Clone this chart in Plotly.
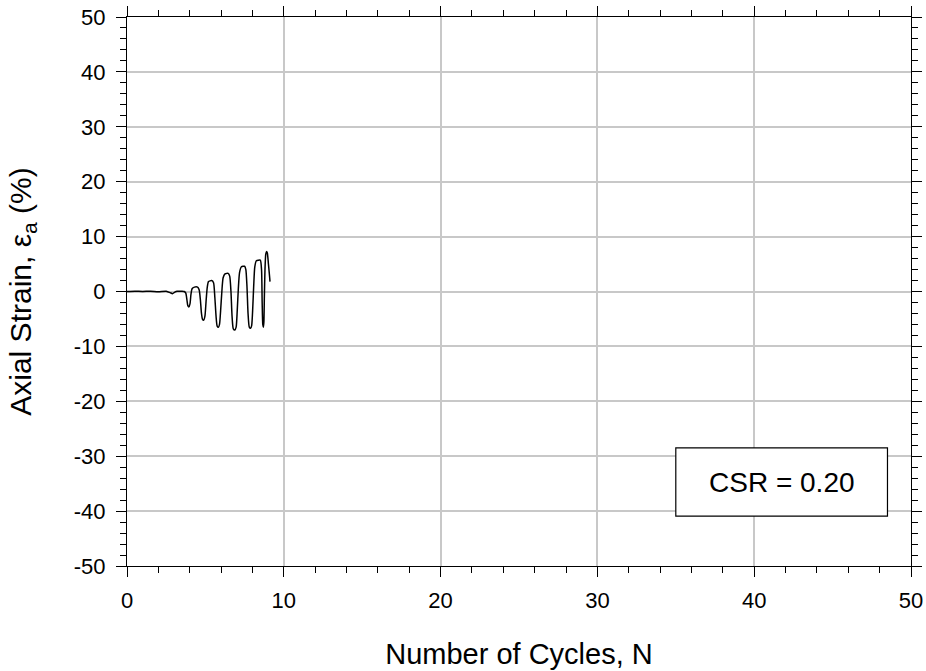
import plotly.graph_objects as go

# Number of cycles N and axial strain (%)
cycles = [0.0, 0.5, 1.0, 1.5, 2.0, 2.5, 2.75, 2.9, 3.05, 3.2, 3.5, 3.65,
          3.75, 3.82, 3.88, 3.95, 4.02, 4.08, 4.15, 4.3, 4.5, 4.6,
          4.68, 4.75, 4.82, 4.9, 4.97, 5.05, 5.12, 5.2, 5.4, 5.52,
          5.6, 5.68, 5.75, 5.83, 5.9, 5.97, 6.05, 6.13, 6.25, 6.45, 6.55,
          6.63, 6.7, 6.78, 6.88, 6.96, 7.03, 7.1, 7.18, 7.3, 7.5, 7.58,
          7.65, 7.72, 7.8, 7.88, 7.95, 8.02, 8.08, 8.15, 8.25, 8.5,
          8.58, 8.62, 8.66, 8.7, 8.73, 8.76, 8.8, 8.85, 8.9, 8.95, 9.02, 9.1, 9.12]
strain = [0.0, 0.05, 0.0, 0.05, -0.05, 0.05, -0.2, -0.4, -0.1, 0.05, 0.05, 0.0,
          -0.3, -1.5, -2.6, -2.8, -2.2, -0.5, 0.5, 0.8, 0.8, 0.3,
          -1.5, -4.0, -5.1, -5.2, -4.5, -1.5, 0.8, 1.8, 2.0, 1.6,
          -1.0, -4.5, -6.3, -6.5, -6.0, -3.5, 0.0, 2.5, 3.2, 3.3, 2.8,
          0.0, -4.5, -6.8, -7.0, -6.5, -3.5, 0.5, 3.5, 4.5, 4.6, 4.0,
          1.0, -4.0, -6.5, -6.7, -6.2, -3.0, 1.0, 4.5, 5.6, 5.7,
          4.0, -2.0, -6.0, -6.5, -5.5, -1.0, 4.0, 6.8, 7.3, 7.0, 5.0, 2.5, 1.8]

x_ticks = [0, 10, 20, 30, 40, 50]
y_ticks = [50, 40, 30, 20, 10, 0, -10, -20, -30, -40, -50]
label_text = "CSR = 0.20"

FONT = "Liberation Sans, Arial, sans-serif"

fig = go.Figure()
fig.add_trace(go.Scatter(x=cycles, y=strain, mode="lines",
                         line=dict(color="black", width=1.5, shape="spline", smoothing=0.6),
                         hoverinfo="skip", showlegend=False))

axis_common = dict(
    showline=True, linecolor="black", linewidth=1.2, mirror="allticks",
    ticks="outside", ticklen=10, tickwidth=1.2, tickcolor="black",
    showgrid=True, gridcolor="#c8c8c8", gridwidth=1.5, zeroline=False,
    automargin=False,
    tickfont=dict(family=FONT, size=22, color="black"),
    minor=dict(ticks="outside", ticklen=6, tickwidth=1.2, tickcolor="black", dtick=2, showgrid=False),
)

fig.update_xaxes(range=[0, 50], tickvals=x_ticks, ticktext=[str(v) for v in x_ticks],
                 ticklabelstandoff=4,
                 title=dict(text="Number of Cycles, N", font=dict(family=FONT, size=29, color="black"), standoff=32),
                 **axis_common)
fig.update_yaxes(range=[-50, 50], tickvals=y_ticks, ticktext=[str(v) for v in y_ticks],
                 ticklabelstandoff=6,
                 title=dict(text="Axial Strain, ε<sub>a</sub> (%)", font=dict(family=FONT, size=30, color="black"), standoff=33),
                 **axis_common)

fig.add_shape(type="rect", xref="x", yref="y", x0=35.0, x1=48.5, y0=-40.9, y1=-28.5,
              line=dict(color="black", width=1.2), fillcolor="white", layer="above")
fig.add_annotation(xref="x", yref="y", x=41.75, y=-34.7, text=label_text, showarrow=False,
                   font=dict(family=FONT, size=28, color="black"))

fig.update_layout(width=926, height=671, autosize=False,
                  margin=dict(l=127, r=15, t=17, b=105, autoexpand=False),
                  paper_bgcolor="white", plot_bgcolor="white")

fig.write_html("out.html")
